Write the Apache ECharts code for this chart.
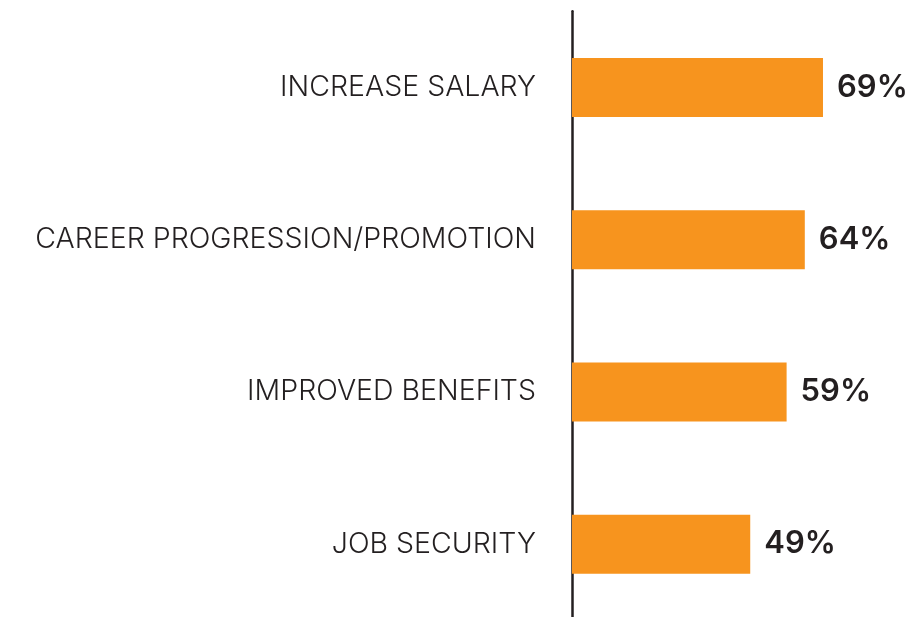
<!DOCTYPE html>
<html>
<head>
<meta charset="utf-8">
<script src="https://cdn.jsdelivr.net/npm/echarts@6/dist/echarts.min.js"></script>
<style>html,body{margin:0;padding:0;background:#fff;overflow:hidden;}#c{width:919px;height:617px;}</style>
</head>
<body>
<div id="c"></div>
<script>
const categories = ["INCREASE SALARY", "CAREER PROGRESSION/PROMOTION", "IMPROVED BENEFITS", "JOB SECURITY"];
const values = [69, 64, 59, 49];

const chart = echarts.init(document.getElementById('c'), null, {renderer: 'canvas'});
chart.setOption({
  animation: false,
  backgroundColor: '#ffffff',
  grid: {left: 572, top: 11.3, width: 291, height: 609, containLabel: false, outerBoundsMode: 'none'},
  xAxis: {
    type: 'value', min: 0, max: 80,
    show: false
  },
  yAxis: {
    type: 'category', data: categories, inverse: true,
    axisLine: {show: true, lineStyle: {color: '#231f20', width: 2.5}},
    axisTick: {show: false},
    axisLabel: {
      margin: 36, fontSize: 28.5, color: '#231f20',
      fontFamily: 'Inter', fontWeight: 300,
      padding: [3, 0, 0, 0]
    }
  },
  series: [{
    type: 'bar', data: values, barWidth: 59,
    itemStyle: {color: '#F7941E'},
    label: {
      show: true, position: 'right', distance: 14,
      formatter: '{c}%', fontSize: 31, fontWeight: 600,
      fontFamily: 'Inter', color: '#231f20'
    }
  }]
});
</script>
</body>
</html>
